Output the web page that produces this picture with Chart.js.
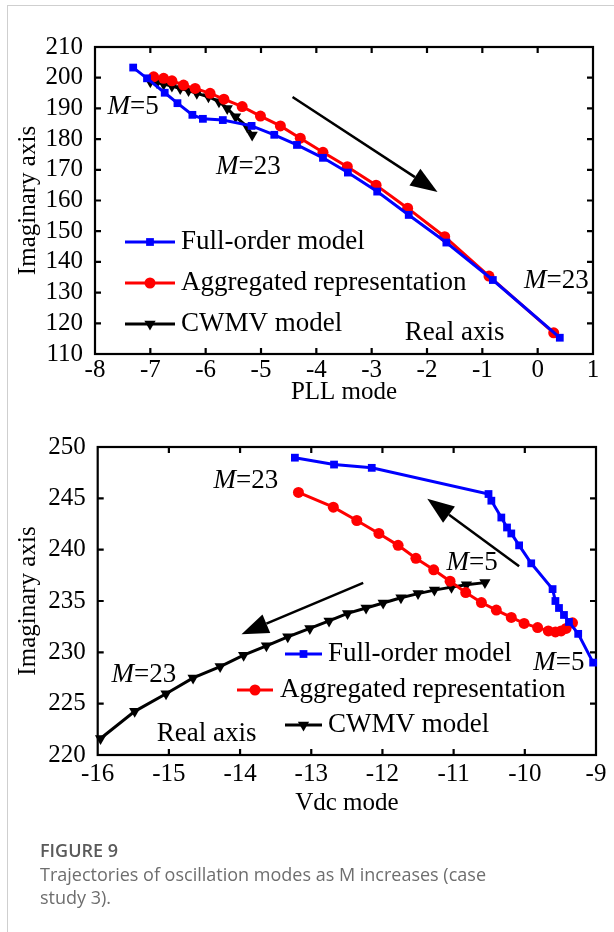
<!DOCTYPE html>
<html><head><meta charset="utf-8">
<script src="https://cdn.jsdelivr.net/npm/chart.js@4.4.1/dist/chart.umd.min.js"></script>
<style>
html,body{margin:0;padding:0;background:#fff;width:614px;height:932px;overflow:hidden;position:relative}
.frame{position:absolute;left:7px;top:5px;width:640px;height:960px;border-left:1px solid #cfcfcf;border-top:1px solid #cfcfcf}
.wrap{position:absolute;left:0;width:614px;height:420px}
.cap{position:absolute;left:40px;top:839px;font-family:'Open Sans',sans-serif;color:#6e6e6e;font-size:18px;line-height:23px}
.cap b{font-weight:600;color:#5a5a5a;display:block;margin-bottom:1px}
</style></head>
<body>
<div class="frame"></div>
<div class="wrap" style="top:0"><canvas id="c1" width="614" height="420"></canvas></div>
<div class="wrap" style="top:420px"><canvas id="c2" width="614" height="420"></canvas></div>
<div class="cap"><b>FIGURE 9</b>Trajectories of oscillation modes as M increases (case<br>study 3).</div>
<script>
// ---- Data: PLL mode ----
const pllFullX = [-7.31,-7.06,-6.74,-6.51,-6.24,-6.05,-5.69,-5.17,-4.76,-4.35,-3.88,-3.43,-2.90,-2.33,-1.65,-0.81,0.40];
const pllFullY = [203.3,199.8,195.1,191.7,187.9,186.6,186.2,184.3,181.4,178.1,173.9,169.1,162.9,155.3,146.3,134.1,115.3];
const pllAggX  = [-6.94,-6.76,-6.61,-6.40,-6.19,-5.92,-5.67,-5.34,-5.01,-4.65,-4.29,-3.88,-3.44,-2.92,-2.35,-1.68,-0.88,0.29];
const pllAggY  = [200.3,199.8,199.0,197.6,196.5,194.9,193.0,190.6,187.5,184.3,180.3,175.7,171.0,165.0,157.5,148.2,135.4,116.9];
const pllCwmvX = [-7.00,-6.88,-6.76,-6.61,-6.46,-6.31,-6.16,-5.95,-5.76,-5.61,-5.46,-5.25,-5.16];
const pllCwmvY = [198.7,198.4,197.9,197.3,196.5,195.8,194.9,193.8,192.2,190.0,187.3,184.0,181.3];
// ---- Data: Vdc mode ----
const vdcFullX = [-13.23,-12.68,-12.15,-10.51,-10.47,-10.33,-10.25,-10.19,-10.08,-9.91,-9.61,-9.57,-9.52,-9.45,-9.38,-9.25,-9.04];
const vdcFullY = [248.96,248.29,247.97,245.42,244.77,243.13,242.16,241.58,240.42,238.67,236.16,235.0,234.32,233.64,232.96,231.80,229.0];
const vdcAggX  = [-13.18,-12.69,-12.36,-12.05,-11.78,-11.53,-11.28,-11.05,-10.83,-10.61,-10.40,-10.19,-10.01,-9.82,-9.67,-9.57,-9.49,-9.42,-9.33];
const vdcAggY  = [245.58,244.14,242.84,241.58,240.42,239.16,238.04,236.93,235.82,234.85,234.12,233.40,232.82,232.41,232.09,231.99,232.09,232.33,232.87];
const vdcCwmvX = [-15.96,-15.48,-15.04,-14.66,-14.28,-13.95,-13.63,-13.33,-13.02,-12.75,-12.49,-12.23,-11.99,-11.74,-11.50,-11.27,-11.03,-10.82,-10.56];
const vdcCwmvY = [221.61,224.25,225.96,227.51,228.61,229.72,230.64,231.51,232.33,233.06,233.79,234.32,234.80,235.31,235.72,236.06,236.35,236.59,236.79];
// ---- Labels ----
const seriesNames = ['Full-order model','Aggregated representation','CWMV model'];
const yTitle = 'Imaginary axis';
const xTitles = ['PLL mode','Vdc mode'];

const SERIF = "'Liberation Serif','Times New Roman',serif";
const zip = (xs, ys) => xs.map((x, i) => ({x, y: ys[i]}));

function mkSets(fx, fy, ax, ay, cx, cy) {
  return [
    {label: seriesNames[0], data: zip(fx, fy), borderColor: '#0000ff', backgroundColor: '#0000ff',
     pointStyle: 'rect', pointRadius: 5.5, borderWidth: 3, pointBorderWidth: 0, rotation: 0},
    {label: seriesNames[1], data: zip(ax, ay), borderColor: '#ff0000', backgroundColor: '#ff0000',
     pointStyle: 'circle', pointRadius: 5.5, borderWidth: 3, pointBorderWidth: 0, rotation: 0},
    {label: seriesNames[2], data: zip(cx, cy), borderColor: '#000000', backgroundColor: '#000000',
     pointStyle: 'triangle', pointRadius: 6.5, borderWidth: 3, pointBorderWidth: 0, rotation: 180}
  ].map(d => Object.assign(d, {showLine: true, tension: 0, clip: false, pointHoverRadius: d.pointRadius}));
}

function drawArrow(ctx, x1, y1, x2, y2) {
  const ang = Math.atan2(y2 - y1, x2 - x1), L = 27, W = 10;
  const bx = x2 - L * Math.cos(ang), by = y2 - L * Math.sin(ang);
  ctx.beginPath(); ctx.moveTo(x1, y1); ctx.lineTo(bx, by); ctx.lineWidth = 2.5; ctx.strokeStyle = '#000'; ctx.stroke();
  ctx.beginPath(); ctx.moveTo(x2, y2);
  ctx.lineTo(bx + W * Math.sin(ang), by - W * Math.cos(ang));
  ctx.lineTo(bx - W * Math.sin(ang), by + W * Math.cos(ang));
  ctx.closePath(); ctx.fillStyle = '#000'; ctx.fill();
}

function drawM(ctx, cx, cy, rest, size) {
  ctx.font = 'italic ' + size + 'px ' + SERIF;
  const w1 = ctx.measureText('M').width;
  ctx.font = size + 'px ' + SERIF;
  const w2 = ctx.measureText(rest).width;
  const x0 = cx - (w1 + w2) / 2;
  ctx.textAlign = 'left'; ctx.textBaseline = 'middle'; ctx.fillStyle = '#000';
  ctx.font = 'italic ' + size + 'px ' + SERIF; ctx.fillText('M', x0, cy);
  ctx.font = size + 'px ' + SERIF; ctx.fillText(rest, x0 + w1, cy);
}

const framePlugin = {
  id: 'frame',
  beforeDatasetsDraw(chart, args, o) {
    const ctx = chart.ctx, a = chart.chartArea, xs = chart.scales.x, ys = chart.scales.y;
    ctx.save();
    ctx.strokeStyle = '#000'; ctx.lineWidth = 2.2;
    ctx.strokeRect(a.left, a.top, a.right - a.left, a.bottom - a.top);
    const tl = 6;
    ctx.beginPath();
    xs.ticks.forEach(t => {
      const p = xs.getPixelForValue(t.value);
      if (p <= a.left + 1 || p >= a.right - 1) return;
      ctx.moveTo(p, a.bottom); ctx.lineTo(p, a.bottom - tl);
      ctx.moveTo(p, a.top); ctx.lineTo(p, a.top + tl);
    });
    ys.ticks.forEach(t => {
      const p = ys.getPixelForValue(t.value);
      if (p <= a.top + 1 || p >= a.bottom - 1) return;
      ctx.moveTo(a.left, p); ctx.lineTo(a.left + tl, p);
      ctx.moveTo(a.right, p); ctx.lineTo(a.right - tl, p);
    });
    ctx.stroke();
    ctx.restore();
  },
  afterDraw(chart, args, o) {
    const ctx = chart.ctx, a = chart.chartArea, xs = chart.scales.x, ys = chart.scales.y;
    ctx.save();
    ctx.fillStyle = '#000'; ctx.font = o.titleSize + 'px ' + SERIF;
    ctx.textAlign = 'center'; ctx.textBaseline = 'middle';
    ctx.fillText(o.xTitle, (a.left + a.right) / 2, o.xTitleY);
    ctx.save(); ctx.translate(o.yTitleX, (a.top + a.bottom) / 2); ctx.rotate(-Math.PI / 2);
    ctx.fillText(yTitle, 0, 0); ctx.restore();
    o.arrows.forEach(ar => drawArrow(ctx, xs.getPixelForValue(ar[0]), ys.getPixelForValue(ar[1]),
                                          xs.getPixelForValue(ar[2]), ys.getPixelForValue(ar[3])));
    o.mLabels.forEach(m => drawM(ctx, xs.getPixelForValue(m[0]), ys.getPixelForValue(m[1]), m[2], o.annSize));
    ctx.font = o.annSize + 'px ' + SERIF; ctx.textAlign = 'center'; ctx.textBaseline = 'middle'; ctx.fillStyle = '#000';
    o.texts.forEach(t => ctx.fillText(t[2], xs.getPixelForValue(t[0]), ys.getPixelForValue(t[1])));
    o.legend.forEach(r => {
      const ds = chart.data.datasets[r.ds];
      ctx.beginPath(); ctx.moveTo(r.x1, r.y); ctx.lineTo(r.x2, r.y);
      ctx.strokeStyle = ds.borderColor; ctx.lineWidth = 3; ctx.stroke();
      ctx.fillStyle = ds.backgroundColor; ctx.strokeStyle = ds.borderColor;
      Chart.helpers.drawPoint(ctx, {pointStyle: ds.pointStyle, rotation: ds.rotation, radius: ds.pointRadius, borderWidth: 0}, (r.x1 + r.x2) / 2, r.y);
      ctx.fillStyle = '#000'; ctx.font = o.annSize + 'px ' + SERIF; ctx.textAlign = 'left'; ctx.textBaseline = 'middle';
      ctx.fillText(ds.label, r.tx, r.y);
    });
    ctx.restore();
  }
};

function mkChart(id, sets, xr, yr, lay, fo) {
  return new Chart(document.getElementById(id), {
    type: 'scatter',
    data: {datasets: sets},
    options: {
      responsive: false, animation: false, events: [],
      layout: {padding: {top: lay.top, right: lay.right, left: 0, bottom: 0}},
      plugins: {legend: {display: false}, tooltip: {enabled: false}, frame: fo},
      scales: {
        x: {type: 'linear', min: xr[0], max: xr[1],
            ticks: {stepSize: xr[2], autoSkip: false, maxRotation: 0, color: '#000', padding: lay.xpad, font: {family: SERIF, size: 25}},
            grid: {display: false, drawTicks: false}, border: {display: false},
            afterFit: s => { s.height = lay.xh; }},
        y: {type: 'linear', min: yr[0], max: yr[1],
            ticks: {stepSize: yr[2], autoSkip: false, color: '#000', padding: 12, font: {family: SERIF, size: 25}},
            grid: {display: false, drawTicks: false}, border: {display: false},
            afterFit: s => { s.width = lay.yw; }}
      }
    },
    plugins: [framePlugin]
  });
}

mkChart('c1', mkSets(pllFullX, pllFullY, pllAggX, pllAggY, pllCwmvX, pllCwmvY),
  [-8, 1, 1], [110, 210, 10], {top: 47, right: 21, yw: 95, xh: 66, xpad: 1},
  {xTitle: xTitles[0], xTitleY: 392, yTitleX: 28, titleSize: 25, annSize: 27,
   arrows: [[-4.43, 193.7, -1.81, 162.8]],
   mLabels: [[-7.31, 190.5, '=5'], [-5.23, 170.9, '=23'], [0.34, 133.8, '=23']],
   texts: [[-1.50, 116.8, 'Real axis']],
   legend: [{ds: 0, x1: 125, x2: 175, y: 242, tx: 181}, {ds: 1, x1: 125, x2: 175, y: 283, tx: 181}, {ds: 2, x1: 125, x2: 175, y: 324, tx: 181}]});

mkChart('c2', mkSets(vdcFullX, vdcFullY, vdcAggX, vdcAggY, vdcCwmvX, vdcCwmvY),
  [-16, -9, 1], [220, 250, 5], {top: 25, right: 18, yw: 97.7, xh: 85, xpad: 4},
  {xTitle: xTitles[1], xTitleY: 383, yTitleX: 28, titleSize: 25, annSize: 27,
   arrows: [[-10.08, 238.38, -11.37, 244.97], [-12.27, 236.77, -13.98, 231.77]],
   mLabels: [[-13.92, 246.7, '=23'], [-10.74, 238.67, '=5'], [-9.52, 229.0, '=5'], [-15.35, 227.8, '=23']],
   texts: [[-14.47, 222.1, 'Real axis']],
   legend: [{ds: 0, x1: 285, x2: 322, y: 234, tx: 328}, {ds: 1, x1: 237, x2: 273, y: 270, tx: 280}, {ds: 2, x1: 285, x2: 322, y: 305, tx: 328}]});
</script>
</body></html>
